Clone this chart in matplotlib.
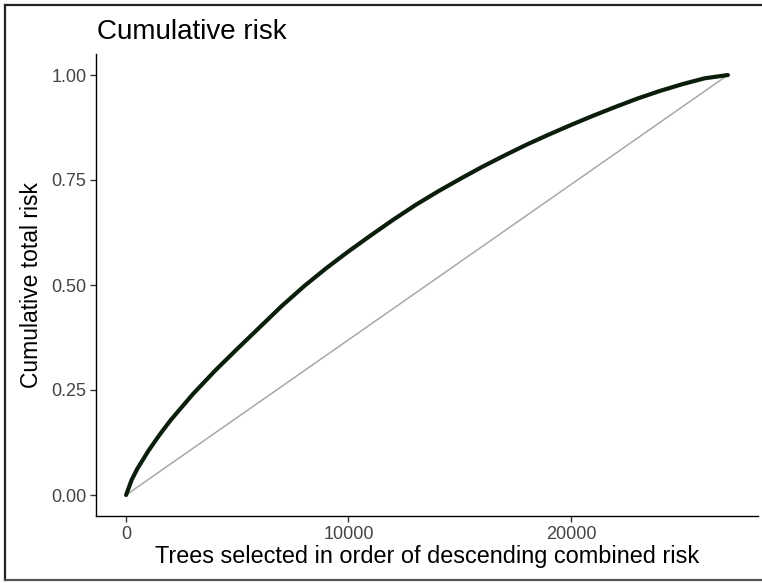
import matplotlib.pyplot as plt
from matplotlib.lines import Line2D

plt.rcParams['font.family'] = ['Liberation Sans', 'DejaVu Sans']

# cumulative share of total risk vs. number of trees (sorted by combined risk)
n_trees = [0, 250, 500, 1000, 1500, 2000, 3000, 4000, 5000, 6000, 7000,
           8000, 9000, 10000, 11000, 12000, 13000, 14000, 15000, 16000,
           17000, 18000, 19000, 20000, 21000, 22000, 23000, 24000, 25000,
           26000, 27060]
cum_risk = [0.0, 0.036, 0.062, 0.105, 0.143, 0.178, 0.240, 0.296, 0.348,
            0.399, 0.450, 0.497, 0.540, 0.580, 0.618, 0.655, 0.690, 0.722,
            0.752, 0.781, 0.808, 0.834, 0.858, 0.881, 0.903, 0.924, 0.944,
            0.962, 0.978, 0.992, 1.0]
total = n_trees[-1]

fig = plt.figure(figsize=(7.62, 5.83), dpi=100)
ax = fig.add_axes([96 / 762, 67 / 583, 662 / 762, 462 / 583])

ax.plot([0, total], [0, 1], color='#a8a8a8', lw=1.1, zorder=1)
ax.plot(n_trees, cum_risk, color='#0b1e0b', lw=3.0, solid_capstyle='round',
        solid_joinstyle='round', zorder=2)

pad_x = 0.05 * total
ax.set_xlim(-pad_x, total + pad_x)
ax.set_ylim(-0.05, 1.05)
ax.set_xticks([0, 10000, 20000])
ax.set_yticks([0, 0.25, 0.5, 0.75, 1.0])
ax.set_yticklabels(['0.00', '0.25', '0.50', '0.75', '1.00'])

for side in ['top', 'right']:
    ax.spines[side].set_visible(False)
for side in ['left', 'bottom']:
    ax.spines[side].set_linewidth(1.0)
    ax.spines[side].set_color('black')
ax.tick_params(axis='both', length=4, width=1.0, color='#333333',
               labelcolor='#444444', labelsize=13, pad=3)

ax.set_xlabel('Trees selected in order of descending combined risk',
              fontsize=16.9, color='black', labelpad=2)
ax.set_ylabel('Cumulative total risk', fontsize=16.5, color='black', labelpad=6)
fig.text(97 / 762, 1 - 32 / 583, 'Cumulative risk', fontsize=20,
         ha='left', va='center')

# frame around the image
for xs, ys, c in [([5, 5], [5, 580], '#222222'),
                  ([5, 762], [5, 5], '#222222'),
                  ([5, 762], [580, 580], '#555555')]:
    fig.add_artist(Line2D([x / 762 for x in xs], [1 - y / 583 for y in ys],
                          color=c, lw=1.6, transform=fig.transFigure))

fig.savefig('out.png', dpi=100)
